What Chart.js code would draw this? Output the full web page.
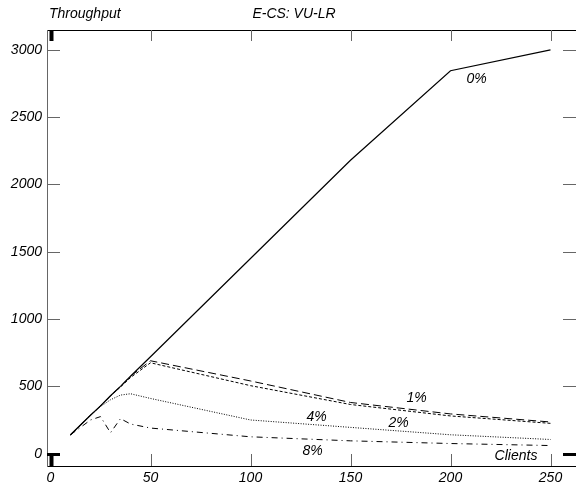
<!DOCTYPE html>
<html>
<head>
<meta charset="utf-8">
<script src="https://cdn.jsdelivr.net/npm/chart.js@4.4.1/dist/chart.umd.min.js"></script>
<style>
  html, body { margin: 0; padding: 0; background: #fff; }
  #wrap { width: 576px; height: 491px; }
</style>
</head>
<body>
<div id="wrap"><canvas id="chart" width="576" height="491"></canvas></div>
<script>
// ---- data ----
const CLIENTS = [10, 20, 25, 30, 35, 40, 50, 100, 150, 200, 250];
const LOSS_0 = [140, 285, 355, 430, 500, 575, 720, 1450, 2180, 2845, 3000];
const LOSS_1 = [140, 285, 355, 430, 500, 575, 690, 540, 380, 295, 235];
const LOSS_2 = [140, 285, 355, 430, 495, 565, 675, 505, 365, 280, 225];
const LOSS_4 = [140, 285, 350, 400, 435, 445, 410, 250, 195, 140, 105];
const LOSS_8 = [140, 250, 275, 155, 260, 220, 190, 125, 95, 75, 60];

const X_TICKS = [0, 50, 100, 150, 200, 250];
const Y_TICKS = [0, 500, 1000, 1500, 2000, 2500, 3000];

// curve labels, in data coordinates
const CURVE_LABELS = ['0%', '1%', '2%', '4%', '8%'];
const CURVE_LABEL_X = [213, 183, 174, 133, 131];
const CURVE_LABEL_Y = [2783, 413, 228, 272, 18];

const FONT = 'italic 14px "Liberation Sans", Arial, sans-serif';
const TICK_FONT = { family: '"Liberation Sans", Arial, sans-serif', size: 14, style: 'italic' };

function pts(ys) {
  return CLIENTS.map((c, i) => ({ x: c, y: ys[i] }));
}

function line(ctx, x1, y1, x2, y2) {
  ctx.beginPath();
  ctx.moveTo(x1, y1);
  ctx.lineTo(x2, y2);
  ctx.stroke();
}

// inward tick marks on all four sides + heavy mark at zero
const frameTicks = {
  id: 'frameTicks',
  afterDraw(chart) {
    const { ctx, chartArea: a, scales: { x, y } } = chart;
    ctx.save();
    X_TICKS.forEach(v => {
      const px = Math.round(x.getPixelForValue(v)) + 0.5;
      if (v === 0) { ctx.strokeStyle = '#000'; ctx.lineWidth = 4; }
      else { ctx.strokeStyle = '#666'; ctx.lineWidth = 1; }
      line(ctx, px, a.bottom, px, a.bottom - 12);
      line(ctx, px, a.top, px, a.top + 11);
    });
    Y_TICKS.forEach(v => {
      const py = Math.round(y.getPixelForValue(v)) + 0.5;
      if (v === 0) { ctx.strokeStyle = '#000'; ctx.lineWidth = 3; }
      else { ctx.strokeStyle = '#666'; ctx.lineWidth = 1; }
      line(ctx, a.left, py, a.left + 13, py);
      line(ctx, a.right - 13, py, a.right, py);
    });
    ctx.restore();
  }
};

// titles and curve labels
const texts = {
  id: 'texts',
  afterDraw(chart) {
    const { ctx, chartArea: a, scales: { x, y } } = chart;
    ctx.save();
    ctx.fillStyle = '#000';
    ctx.font = FONT;
    ctx.textBaseline = 'middle';
    ctx.textAlign = 'left';
    ctx.fillText('Throughput', a.left + 2, 14);
    ctx.textAlign = 'center';
    ctx.fillText('E-CS: VU-LR', 294, 14);
    CURVE_LABELS.forEach((t, i) => {
      ctx.fillText(t, x.getPixelForValue(CURVE_LABEL_X[i]), y.getPixelForValue(CURVE_LABEL_Y[i]));
    });
    ctx.fillText('Clients', 516, 456);
    ctx.restore();
  }
};

const datasets = [
  { label: '0%', data: pts(LOSS_0), borderDash: [], borderWidth: 1.2 },
  { label: '1%', data: pts(LOSS_1), borderDash: [8, 4], borderWidth: 1 },
  { label: '2%', data: pts(LOSS_2), borderDash: [3, 2], borderWidth: 1 },
  { label: '4%', data: pts(LOSS_4), borderDash: [1, 1.5], borderWidth: 1 },
  { label: '8%', data: pts(LOSS_8), borderDash: [6, 4, 1, 4], borderWidth: 1 }
].map(d => Object.assign(d, {
  borderColor: '#000',
  backgroundColor: '#000',
  pointRadius: 0,
  tension: 0,
  fill: false
}));

new Chart(document.getElementById('chart'), {
  type: 'line',
  data: { datasets },
  plugins: [frameTicks, texts],
  options: {
    responsive: false,
    animation: false,
    devicePixelRatio: 1,
    layout: { padding: 0 },
    plugins: { legend: { display: false }, tooltip: { enabled: false } },
    scales: {
      x: {
        type: 'linear',
        position: 'bottom',
        min: -1.75, max: 262.75,
        afterBuildTicks: s => { s.ticks = X_TICKS.map(v => ({ value: v })); },
        afterFit: s => { s.height = 25; },
        grid: { display: false, drawTicks: false },
        border: { display: true, color: '#000', width: 1 },
        ticks: { color: '#000', padding: 4, maxRotation: 0, font: TICK_FONT, callback: v => String(v) }
      },
      xTop: {
        type: 'linear',
        position: 'top',
        min: -1.75, max: 262.75,
        afterFit: s => { s.height = 30; },
        grid: { display: false, drawTicks: false },
        border: { display: true, color: '#000', width: 1 },
        ticks: { display: false }
      },
      y: {
        type: 'linear',
        position: 'left',
        min: -92, max: 3148,
        afterBuildTicks: s => { s.ticks = Y_TICKS.map(v => ({ value: v })); },
        afterFit: s => { s.width = 47; },
        grid: { display: false, drawTicks: false },
        border: { display: true, color: '#666', width: 1 },
        ticks: { color: '#000', padding: 5, font: TICK_FONT, callback: v => String(v) }
      }
    }
  }
});
</script>
</body>
</html>
